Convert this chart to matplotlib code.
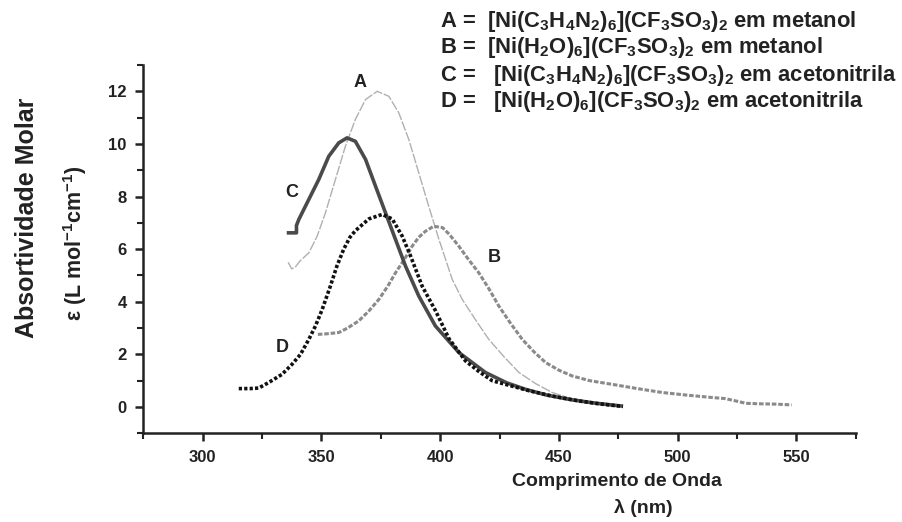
import matplotlib
matplotlib.use("Agg")
import matplotlib.pyplot as plt
from matplotlib.ticker import MultipleLocator

plt.rcParams['font.family'] = ['Liberation Sans', 'DejaVu Sans']
plt.rcParams['mathtext.fontset'] = 'custom'
plt.rcParams['mathtext.rm'] = 'Liberation Sans:bold'
plt.rcParams['mathtext.bf'] = 'Liberation Sans:bold'
plt.rcParams['mathtext.it'] = 'Liberation Sans:bold'
plt.rcParams['mathtext.default'] = 'rm'

# ---- data ----
A_x = [336, 337.5, 339, 341, 344.7, 348.2, 351.7, 355.9, 360.1, 364.3, 368.6, 373.5, 378.4,
       382.6, 386.8, 391, 395.2, 399.5, 405.1, 409.3, 415, 420.5, 427, 433.2, 440, 447.2,
       455, 464, 472]
A_y = [5.5, 5.25, 5.32, 5.55, 5.86, 6.49, 7.38, 8.65, 9.91, 10.93, 11.69, 12.0, 11.81,
       11.18, 10.17, 8.9, 7.63, 6.37, 4.85, 4.09, 3.3, 2.57, 1.9, 1.31, 0.9, 0.55,
       0.32, 0.17, 0.05]

B_x = [348.5, 352, 357.3, 361, 365.7, 370, 374.2, 378, 381.2, 385, 388.2, 391, 393.8,
       397.3, 401, 404, 407.9, 412, 416.3, 420.5, 424.7, 429.5, 434.6, 439.5, 444.4, 450,
       455.6, 463, 472.5, 483, 493.6, 504, 514.6, 520, 524.5, 528.7, 535, 541, 548]
B_y = [2.76, 2.78, 2.83, 3.0, 3.27, 3.65, 4.09, 4.6, 5.1, 5.62, 6.11, 6.45, 6.68,
       6.87, 6.82, 6.55, 6.11, 5.6, 5.1, 4.5, 3.84, 3.2, 2.57, 2.1, 1.69, 1.4,
       1.18, 1.0, 0.86, 0.7, 0.55, 0.45, 0.36, 0.32, 0.23, 0.14, 0.12, 0.11, 0.08]

C_x = [335.4, 339.5, 339.5, 340.5, 344.7, 348.9, 353.1, 357.3, 360.8, 364.3, 368.6, 372.8,
       377, 381.2, 385.4, 391, 398, 407.9, 419.1, 428, 436, 445, 455, 465, 477]
C_y = [6.62, 6.62, 6.9, 7.13, 7.89, 8.65, 9.53, 10.04, 10.23, 10.1, 9.41, 8.39,
       7.38, 6.37, 5.36, 4.22, 3.08, 2.07, 1.31, 0.92, 0.67, 0.45, 0.28, 0.15, 0.03]

D_x = [315.2, 320, 323.6, 327.8, 333.4, 337.6, 341.2, 344.7, 347.5, 350.3, 353.8, 356.5,
       359.4, 362, 364.3, 370, 375.6, 379.8, 384, 387.5, 392.4, 398.1, 403.7, 410.7,
       416.3, 421.9, 430, 437.4, 447, 458.4, 467, 477]
D_y = [0.70, 0.70, 0.72, 0.93, 1.24, 1.62, 2.0, 2.57, 3.08, 3.7, 4.6, 5.35,
       6.0, 6.45, 6.7, 7.15, 7.32, 7.15, 6.5, 5.75, 4.6, 3.65, 2.6, 1.75,
       1.35, 1.0, 0.8, 0.62, 0.42, 0.23, 0.12, 0.02]

x_ticks = [300, 350, 400, 450, 500, 550]
y_ticks = [0, 2, 4, 6, 8, 10, 12]

legend_lines = [
    r'A =  $[Ni(C_3H_4N_2)_6](CF_3SO_3)_2$ em metanol',
    r'B =  $[Ni(H_2O)_6](CF_3SO_3)_2$ em metanol',
    r'C =   $[Ni(C_3H_4N_2)_6](CF_3SO_3)_2$ em acetonitrila',
    r'D =   $[Ni(H_2O)_6](CF_3SO_3)_2$ em acetonitrila',
]

fig = plt.figure(figsize=(9.02, 5.22), dpi=100)
ax = fig.add_axes([143.3 / 902, 1 - 433.3 / 522, (855.7 - 143.3) / 902, (433.3 - 65) / 522])

ax.plot(A_x, A_y, color='#b0b0b0', lw=1.0, ls=(0, (7, 1.2)))
ax.plot(B_x, B_y, color='#8a8a8a', lw=2.2, ls=(0, (1.5, 0.6)))
ax.plot(C_x, C_y, color='#4a4a4a', lw=2.6, solid_capstyle='butt')
ax.plot(D_x, D_y, color='#111111', lw=2.6, ls=(0, (0.9, 0.6)))

ax.set_xlim(275, 575)
ax.set_ylim(-1, 13)
ax.xaxis.set_major_locator(MultipleLocator(50))
ax.xaxis.set_minor_locator(MultipleLocator(25))
ax.yaxis.set_major_locator(MultipleLocator(2))
ax.yaxis.set_minor_locator(MultipleLocator(1))
ax.set_xticks(x_ticks)
ax.set_yticks(y_ticks)
for s in ['top', 'right']:
    ax.spines[s].set_visible(False)
for s in ['left', 'bottom']:
    ax.spines[s].set_linewidth(1.8)
    ax.spines[s].set_color('#222222')
ax.tick_params(which='major', length=6, width=1.8, labelsize=12, colors='#222222', pad=6)
ax.tick_params(which='minor', length=4, width=1.5, colors='#222222')
for lab in ax.get_xticklabels() + ax.get_yticklabels():
    lab.set_fontweight('bold')

# curve labels
kw = dict(fontsize=13, fontweight='bold', color='#222222', ha='center', va='center')
ax.text(366.2, 12.35, 'A', **kw)
ax.text(422.7, 5.67, 'B', **kw)
ax.text(337.6, 8.14, 'C', **kw)
ax.text(333.4, 2.26, 'D', **kw)

# legend block
ys = [22, 48, 75, 102]
for t, yp in zip(legend_lines, ys):
    fig.text(440 / 902, 1 - yp / 522, t, fontsize=15.8, fontweight='bold', color='#222222',
             ha='left', va='center')

# axis titles
fig.text(27 / 902, 1 - 218 / 522, 'Absortividade Molar', rotation=90, fontsize=18,
         fontweight='bold', color='#222222', ha='center', va='center')
fig.text(75 / 902, 1 - 243 / 522, r'ε (L mol$^{-1}$cm$^{-1}$)', rotation=90, fontsize=15.5,
         fontweight='bold', color='#222222', ha='center', va='center')
fig.text(617 / 902, 1 - 481 / 522, 'Comprimento de Onda', fontsize=14, fontweight='bold',
         color='#222222', ha='center', va='center')
fig.text(643 / 902, 1 - 508 / 522, 'λ (nm)', fontsize=14, fontweight='bold', color='#222222',
         ha='center', va='center')

fig.savefig('out.png', dpi=100)
